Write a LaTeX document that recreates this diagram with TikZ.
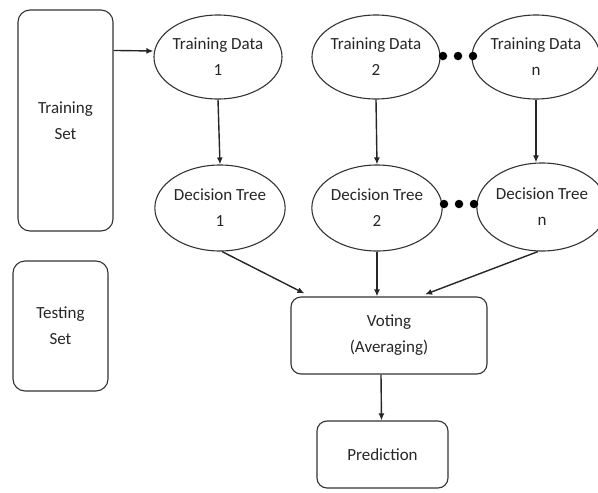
\documentclass[tikz,border=0pt]{standalone}
\usepackage{fontspec}
\setmainfont{Carlito}
\usetikzlibrary{shapes.geometric,arrows.meta}
\begin{document}
\begin{tikzpicture}[x=1pt,y=-1pt,
  every node/.style={font=\fontsize{17}{26}\selectfont, text=black!85, align=center},
  rbox/.style={draw=black!80, line width=1.1pt, rounded corners=12pt, inner sep=0pt},
  oval/.style={draw=black!80, line width=1.1pt, ellipse, inner sep=0pt},
  arr/.style={draw=black!85, line width=1.4pt, -{Latex[length=7pt,width=6pt]}},
  dot/.style={fill=black, circle, inner sep=0pt, minimum size=8.5pt}]
\useasboundingbox (0,0) rectangle (598,493);
% boxes
\node[rbox, minimum width=95pt, minimum height=221pt] (train) at (65.5,120.5) {Training\\Set};
\node[rbox, minimum width=95pt, minimum height=130pt] (test) at (60.5,326) {Testing\\Set};
\node[rbox, rounded corners=10pt, minimum width=196pt, minimum height=77pt] (vote) at (389,335.5) {Voting\\(Averaging)};
\node[rbox, rounded corners=10pt, minimum width=131pt, minimum height=67pt] (pred) at (382.5,454.5) {Prediction};
% training data ellipses
\node[oval, minimum width=115pt, minimum height=84pt] (td1) at (218,57) {Training Data\\1};
\node[oval, minimum width=112pt, minimum height=84pt] (td2) at (376,57) {Training Data\\2};
\node[oval, minimum width=107pt, minimum height=84pt] (tdn) at (536,57) {Training Data\\n};
% decision tree ellipses
\node[oval, minimum width=110pt, minimum height=86pt] (dt1) at (220,208) {Decision Tree\\1};
\node[oval, minimum width=106pt, minimum height=86pt] (dt2) at (377,208) {Decision Tree\\2};
\node[oval, minimum width=108pt, minimum height=88pt] (dtn) at (542,207) {Decision Tree\\n};
% dots
\node[dot] (a1) at (443,56) {};
\node[dot] (a2) at (458,56) {};
\node[dot] (a3) at (473,56) {};
\node[dot] (b1) at (444,204) {};
\node[dot] (b2) at (459,204) {};
\node[dot] (b3) at (474,204) {};
% arrows
\draw[arr] ([yshift=-41pt]train.north east) -- (td1.west |- 0,51);
\draw[arr] (td1.south) -- (dt1.north);
\draw[arr] (td2.south) -- (dt2.north);
\draw[arr] (tdn.south) -- (tdn.south |- dtn.north);
\draw[arr] ([xshift=2pt]dt1.south) -- ([xshift=14pt,yshift=3pt]vote.north west);
\draw[arr] (dt2.south) -- (dt2.south |- vote.north);
\draw[arr] ([xshift=-4pt]dtn.south) -- ([xshift=36pt,yshift=2pt]vote.north);
\draw[arr] ([xshift=-8pt]vote.south) -- ([xshift=-7.5pt]vote.south |- pred.north);
\end{tikzpicture}
\end{document}
